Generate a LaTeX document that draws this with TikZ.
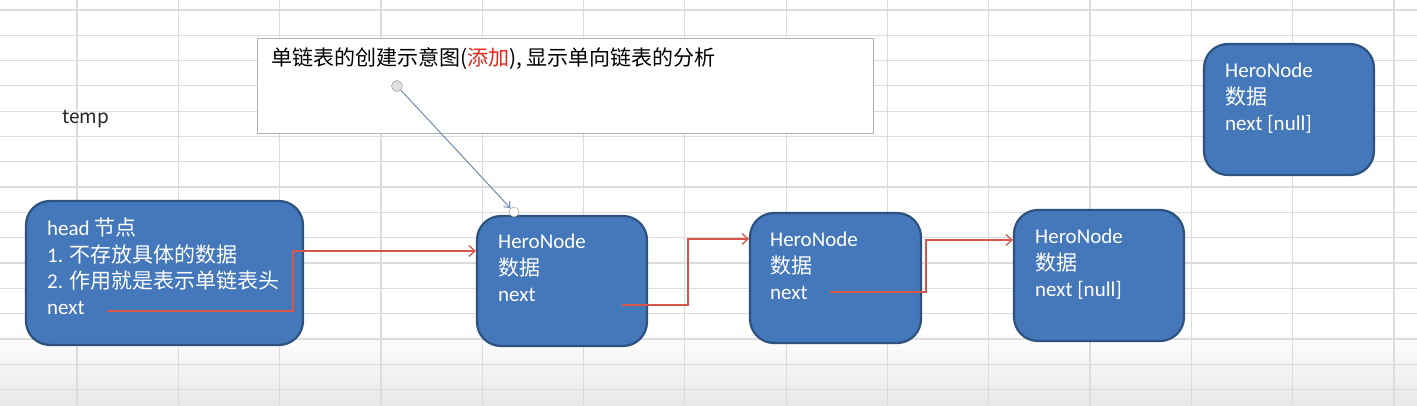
\documentclass[tikz,border=0pt]{standalone}
\usepackage{fontspec}
\setmainfont{Carlito}
\newfontfamily\cjk{Noto Sans CJK SC}
\usetikzlibrary{arrows.meta,calc}
\definecolor{boxfill}{RGB}{69,120,186}
\definecolor{boxline}{RGB}{45,82,128}
\definecolor{redline}{RGB}{215,85,75}
\definecolor{gridc}{RGB}{220,220,220}
\definecolor{ptr}{RGB}{110,140,175}
\definecolor{addred}{RGB}{230,40,30}
\begin{document}
\begin{tikzpicture}[x=1pt,y=-1pt,
  heronode/.style={draw=boxline, line width=2.2pt, fill=boxfill, rounded corners=24pt, inner sep=0pt},
  wtxt/.style={text=white, font=\fontsize{21}{26.3}\selectfont, align=left, anchor=north west, inner sep=0pt},
  link/.style={draw=redline, line width=1.3pt, -{Straight Barb[length=6pt,width=11pt]}},
  gridline/.style={draw=gridc, line width=1.2pt},
]
\useasboundingbox (0,0) rectangle (1417,406);
\fill[white] (0,0) rectangle (1417,406);
\shade[top color=white,bottom color=black!9] (0,330) rectangle (1417,406);
\foreach \x in {0,...,13} \draw[gridline] (77+101.3*\x,0) -- (77+101.3*\x,406);
\foreach \y in {0,...,15} \draw[gridline] (0,10+25.3*\y) -- (1417,10+25.3*\y);

% callout
\node[draw=black!30, line width=0.8pt, fill=white, minimum width=616pt, minimum height=95pt, inner sep=0pt] (note) at (565,85.5) {};
\node[anchor=west, inner sep=0pt, font=\cjk\fontsize{21}{24}\selectfont] (notetext) at (271,58.5) {单链表的创建示意图(\textcolor{addred}{添加}), 显示单向链表的分析};

\node[anchor=west, inner sep=0pt, font=\cjk\fontsize{19}{20}\selectfont, text=black!85] (temp) at (62,119) {temp};

% boxes
\node[heronode, minimum width=277pt, minimum height=144pt] (head) at (164.5,273) {};
\node[heronode, minimum width=170pt, minimum height=130pt] (h1) at (562,281) {};
\node[heronode, minimum width=171pt, minimum height=130pt] (h2) at (835.5,278) {};
\node[heronode, minimum width=170pt, minimum height=131pt] (h3) at (1099,275.5) {};
\node[heronode, minimum width=170pt, minimum height=131pt] (h4) at (1289,109.5) {};

\node[wtxt] (headtxt) at (47,218) {head {\cjk 节点}\\1. {\cjk 不存放具体的数据}\\2. {\cjk 作用就是表示单链表头}\\next};
\node[wtxt] (h1txt) at (498,234) {HeroNode\\{\cjk 数据}\\next};
\node[wtxt] (h2txt) at (770,232) {HeroNode\\{\cjk 数据}\\next};
\node[wtxt] (h3txt) at (1035,229) {HeroNode\\{\cjk 数据}\\next [null]};
\node[wtxt] (h4txt) at (1225,63) {HeroNode\\{\cjk 数据}\\next [null]};

% links
\coordinate (n0) at (107,311);
\coordinate (n1) at (622,305);
\coordinate (n2) at (830,292);
\draw[link] (n0) -- ++(186,0) |- ($(h1.west)+(0,-30)$);
\draw[link] (n1) -- ++(66,0) |- ($(h2.west)+(0,-39)$);
\draw[link] (n2) -- ++(96,0) |- ($(h3.west)+(0,-35.5)$);

% pointer
\node[circle, draw=black!45, fill=black!12, minimum size=11pt, inner sep=0pt] (p0) at (397,86) {};
\node[circle, draw=black!45, fill=white, minimum size=10pt, inner sep=0pt] (p1) at (514,212) {};
\draw[ptr, line width=1pt, -{Straight Barb[length=5pt,width=8pt]}] (p0) -- (p1);
\end{tikzpicture}
\end{document}
